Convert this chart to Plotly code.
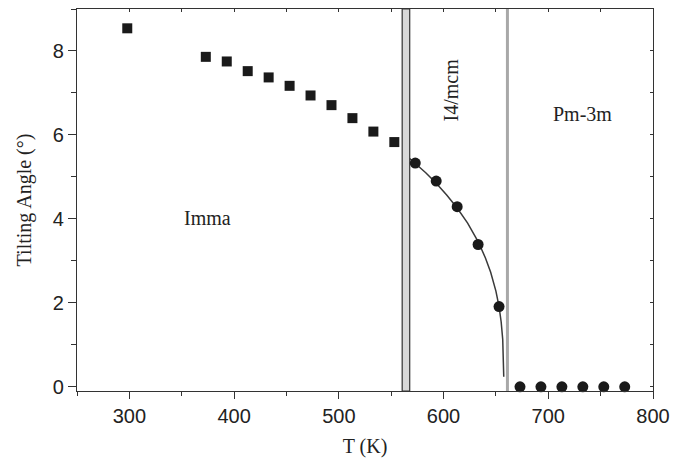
import plotly.graph_objects as go

# Octahedral tilting angle vs temperature, three structural phases
T_imma = [298, 373, 393, 413, 433, 453, 473, 493, 513, 533, 553]
tilt_imma = [8.54, 7.86, 7.75, 7.52, 7.37, 7.17, 6.94, 6.71, 6.40, 6.08, 5.83]

T_tetra = [573, 593, 613, 633, 653]
tilt_tetra = [5.33, 4.90, 4.29, 3.39, 1.91]

T_cubic = [673, 693, 713, 733, 753, 773]
tilt_cubic = [0, 0, 0, 0, 0, 0]

# Critical-behaviour fit through the tetragonal points
T_fit = [567.7, 573, 583, 593, 603, 613, 623, 633, 640, 645, 650, 653, 655,
         656.5, 657.2, 657.45, 657.5]
tilt_fit = [5.44, 5.33, 5.10, 4.85, 4.57, 4.26, 3.90, 3.46, 3.07, 2.73, 2.28,
            1.91, 1.55, 1.13, 0.74, 0.40, 0.24]

# Phase boundaries (K)
imma_tetra_boundary = (560.5, 567.7)
tetra_cubic_boundary = 661.0

phase_names = ["Imma", "I4/mcm", "Pm-3m"]
phase_label_pos = [(375, 4.02, 0), (607.6, 7.07, -90), (732.6, 6.50, 0)]

x_ticks = [300, 400, 500, 600, 700, 800]
y_ticks = [0, 2, 4, 6, 8]

INK = "#1a1a1a"
AXIS = "#333333"
SANS = "Liberation Sans, Arial, sans-serif"
SERIF = "Liberation Serif, Times New Roman, serif"

fig = go.Figure()

fig.add_trace(go.Scatter(x=T_fit, y=tilt_fit, mode="lines",
                         line=dict(color="#3a3a3a", width=1.5),
                         hoverinfo="skip", showlegend=False))
fig.add_trace(go.Scatter(x=T_imma, y=tilt_imma, mode="markers",
                         marker=dict(symbol="square", size=10, color=INK),
                         showlegend=False))
fig.add_trace(go.Scatter(x=T_tetra, y=tilt_tetra, mode="markers",
                         marker=dict(symbol="circle", size=11, color=INK),
                         showlegend=False))
fig.add_trace(go.Scatter(x=T_cubic, y=tilt_cubic, mode="markers",
                         marker=dict(symbol="circle", size=11, color=INK),
                         cliponaxis=False, showlegend=False))
# invisible trace anchoring the top/right tick axes
fig.add_trace(go.Scatter(x=[250, 800], y=[-0.1, 9], xaxis="x2", yaxis="y2",
                         mode="markers", marker=dict(opacity=0),
                         hoverinfo="skip", showlegend=False))

# phase boundary band and line
fig.add_shape(type="rect", xref="x", yref="paper",
              x0=imma_tetra_boundary[0], x1=imma_tetra_boundary[1], y0=0, y1=1,
              fillcolor="#d9d9d9", line=dict(color=AXIS, width=1.2), layer="below")
fig.add_shape(type="line", xref="x", yref="paper",
              x0=tetra_cubic_boundary, x1=tetra_cubic_boundary, y0=0, y1=1,
              line=dict(color="#a8a8a8", width=3), layer="below")

for name, (tx, ty, ang) in zip(phase_names, phase_label_pos):
    fig.add_annotation(x=tx, y=ty, text=name, showarrow=False, textangle=ang,
                       font=dict(family=SERIF, size=20, color="#222222"),
                       xanchor="center", yanchor="middle")

fig.update_layout(
    width=686, height=458,
    margin=dict(l=77, r=33, t=9, b=67),
    paper_bgcolor="white", plot_bgcolor="white",
    xaxis=dict(range=[250, 800], tickvals=x_ticks, ticks="outside", ticklen=7,
               tickwidth=1.2, tickcolor=AXIS, showline=True, linecolor=AXIS,
               linewidth=1.3, mirror=True, showgrid=False, zeroline=False,
               automargin=False,
               tickfont=dict(family=SANS, size=20, color="#222222"),
               minor=dict(dtick=50, tick0=250, ticks="outside", ticklen=4,
                          tickwidth=1.2, tickcolor=AXIS, showgrid=False),
               title=dict(text="T (K)", standoff=13,
                          font=dict(family=SERIF, size=20, color="#222222"))),
    yaxis=dict(range=[-0.1, 9.0], tickvals=y_ticks, ticks="outside", ticklen=8,
               tickwidth=1.2, tickcolor=AXIS, showline=True, linecolor=AXIS,
               linewidth=1.3, mirror=True, showgrid=False, zeroline=False,
               automargin=False,
               tickfont=dict(family=SANS, size=20, color="#222222"),
               minor=dict(dtick=1, tick0=0, ticks="outside", ticklen=5,
                          tickwidth=1.2, tickcolor=AXIS, showgrid=False),
               title=dict(text="Tilting Angle (°)", standoff=15,
                          font=dict(family=SERIF, size=20, color="#222222"))),
    xaxis2=dict(overlaying="x", side="top", range=[250, 800], dtick=50, tick0=0,
                ticks="inside", ticklen=3, tickwidth=1, tickcolor=AXIS,
                showticklabels=False, showgrid=False, zeroline=False,
                showline=False, automargin=False),
    yaxis2=dict(overlaying="y", side="right", range=[-0.1, 9.0], dtick=1,
                tick0=0, ticks="inside", ticklen=3, tickwidth=1,
                tickcolor=AXIS, showticklabels=False, showgrid=False,
                zeroline=False, showline=False, automargin=False),
)

fig.write_html("out.html")
